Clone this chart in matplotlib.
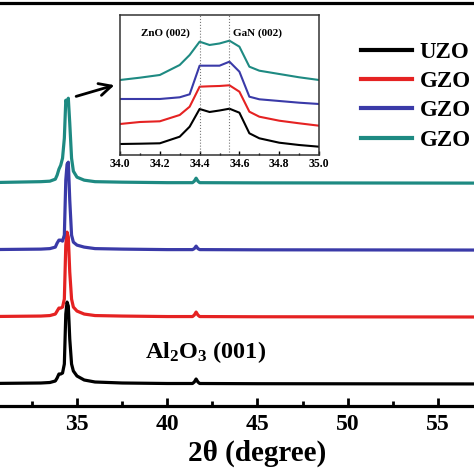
import matplotlib
matplotlib.use("Agg")
import matplotlib.pyplot as plt
from matplotlib.ticker import MultipleLocator, FixedLocator

plt.rcParams['font.family'] = ['Liberation Serif', 'DejaVu Serif']
plt.rcParams['font.weight'] = 'bold'
plt.rcParams['mathtext.fontset'] = 'custom'
plt.rcParams['mathtext.rm'] = 'Liberation Serif:bold'
plt.rcParams['mathtext.bf'] = 'Liberation Serif:bold'
plt.rcParams['mathtext.it'] = 'Liberation Serif:bold:italic'

# main XRD scans (heights above each baseline, arbitrary units)
two_theta = [30.0, 33.0, 33.5, 33.8, 33.9, 34.0, 34.1, 34.2, 34.3, 34.38, 34.45, 34.52,
             34.6, 34.7, 34.8, 35.0, 35.4, 36.0, 37.5, 40.0, 41.4, 41.5, 41.6, 41.7,
             41.8, 45.0, 50.0, 60.0]
uzo   = [0.5, 1, 1.5, 3, 6, 10, 10, 11, 20, 70, 82, 78, 45, 20, 13, 8, 4, 2, 1, 0.5,
         0.5, 2, 5, 2, 0.5, 0.3, 0.2, 0]
gzo_1 = [0.5, 1, 1.5, 3, 6, 9, 9, 10, 18, 72, 85, 80, 45, 18, 10, 6, 3, 1.5, 1, 0.5,
         0.5, 2, 5, 2, 0.5, 0.3, 0.2, 0]
gzo_2 = [0.5, 1, 1.5, 3, 7, 10, 10, 9, 15, 70, 86, 88, 50, 15, 8, 5, 3, 1.5, 1, 0.5,
         0.5, 1.5, 4, 1.5, 0.5, 0.3, 0.2, 0]
gzo_3 = [0.5, 1.5, 2, 4, 8, 14, 18, 25, 45, 83, 80, 85, 60, 25, 12, 6, 3, 1.5, 1, 0.5,
         0.5, 2, 5, 2, 0.5, 0.3, 0.2, 0]

# inset zoom 34.0 - 35.0
inset_x   = [34.0, 34.1, 34.2, 34.3, 34.35, 34.4, 34.45, 34.5, 34.55, 34.6, 34.65, 34.7,
             34.8, 34.9, 35.0]
inset_uzo = [11, 11.3, 11.7, 18.3, 28.3, 46, 43, 44.5, 46.3, 42.3, 21.7, 16.7, 12.3, 10, 8.3]
inset_g1  = [31, 33, 33.7, 40, 48.3, 68.3, 68.7, 69, 69.7, 63.3, 43.3, 38.3, 34.3, 31.7, 29.3]
inset_g2  = [56, 56, 56, 57.7, 60.7, 89.3, 89.3, 89.3, 93.3, 83.3, 58.3, 55.7, 54, 52.3, 51]
inset_g3  = [75, 77.3, 80, 90, 100, 113.3, 110, 111.5, 114.3, 108.3, 88.3, 84.3, 81, 77.7, 75]

labels = ['UZO', 'GZO', 'GZO', 'GZO']
colors = ['#000000', '#e52222', '#3a3aa8', '#1e8a82']
offsets = [22, 89, 156, 223]
major_ticks = [35, 40, 45, 50, 55]

fig = plt.figure(figsize=(4.74, 4.74), dpi=100)
ax = fig.add_axes([-0.028, 0.1435, 1.1424, 0.8495])

for ys, c, off, lab in zip([uzo, gzo_1, gzo_2, gzo_3], colors, offsets, labels):
    ax.plot(two_theta, [v + off for v in ys], color=c, lw=2.3, label=lab)

ax.set_xlim(30, 60)
ax.set_ylim(0, 403)
ax.xaxis.set_major_locator(FixedLocator(major_ticks))
ax.xaxis.set_minor_locator(MultipleLocator(2.5))
ax.tick_params(axis='x', which='major', direction='in', length=6, width=2,
               labelsize=17, pad=6)
ax.tick_params(axis='x', which='minor', direction='in', length=3.5, width=2)
ax.tick_params(axis='y', left=False, labelleft=False)
for s in ax.spines.values():
    s.set_linewidth(2.3)
ax.set_xlabel('2θ (degree)', fontsize=21, fontweight='bold', labelpad=3)

ax.text(42.1, 41, r'Al$_2$O$_3$ (001)', fontsize=17.5, ha='center', va='bottom')

leg = fig.legend(loc='upper left', bbox_to_anchor=(0.762, 0.912), frameon=False,
                 fontsize=16.5, handlelength=2.2, handletextpad=0.35,
                 labelspacing=0.36, borderpad=0, borderaxespad=0)
for h in leg.legend_handles:
    h.set_linewidth(3)

# inset
ins = fig.add_axes([0.2532, 0.673, 0.4198, 0.2954])
for ys, c in zip([inset_uzo, inset_g1, inset_g2, inset_g3], colors):
    ins.plot(inset_x, ys, color=c, lw=1.5)
ins.axvline(34.4, color='#777777', lw=0.8, ls=':')
ins.axvline(34.55, color='#777777', lw=0.8, ls=':')
ins.set_xlim(34.0, 35.0)
ins.set_ylim(0, 140)
ins.xaxis.set_major_locator(MultipleLocator(0.2))
ins.xaxis.set_minor_locator(MultipleLocator(0.1))
ins.tick_params(axis='x', which='major', direction='in', length=3, width=1,
                labelsize=8.5, pad=2)
ins.tick_params(axis='x', which='minor', direction='in', length=1.5, width=1)
ins.xaxis.set_major_formatter(plt.FormatStrFormatter('%.1f'))
ins.tick_params(axis='y', left=False, labelleft=False)
for s in ins.spines.values():
    s.set_linewidth(1.1)
    s.set_color('#333333')
ins.text(34.23, 122, 'ZnO (002)', fontsize=8, ha='center', va='center')
ins.text(34.69, 122, 'GaN (002)', fontsize=8, ha='center', va='center')

ax.annotate('', xy=(0.247, 0.822), xycoords='figure fraction',
            xytext=(0.155, 0.795), textcoords='figure fraction',
            arrowprops=dict(arrowstyle='->', lw=2, color='black', mutation_scale=22))

fig.savefig('out.png', dpi=100)
